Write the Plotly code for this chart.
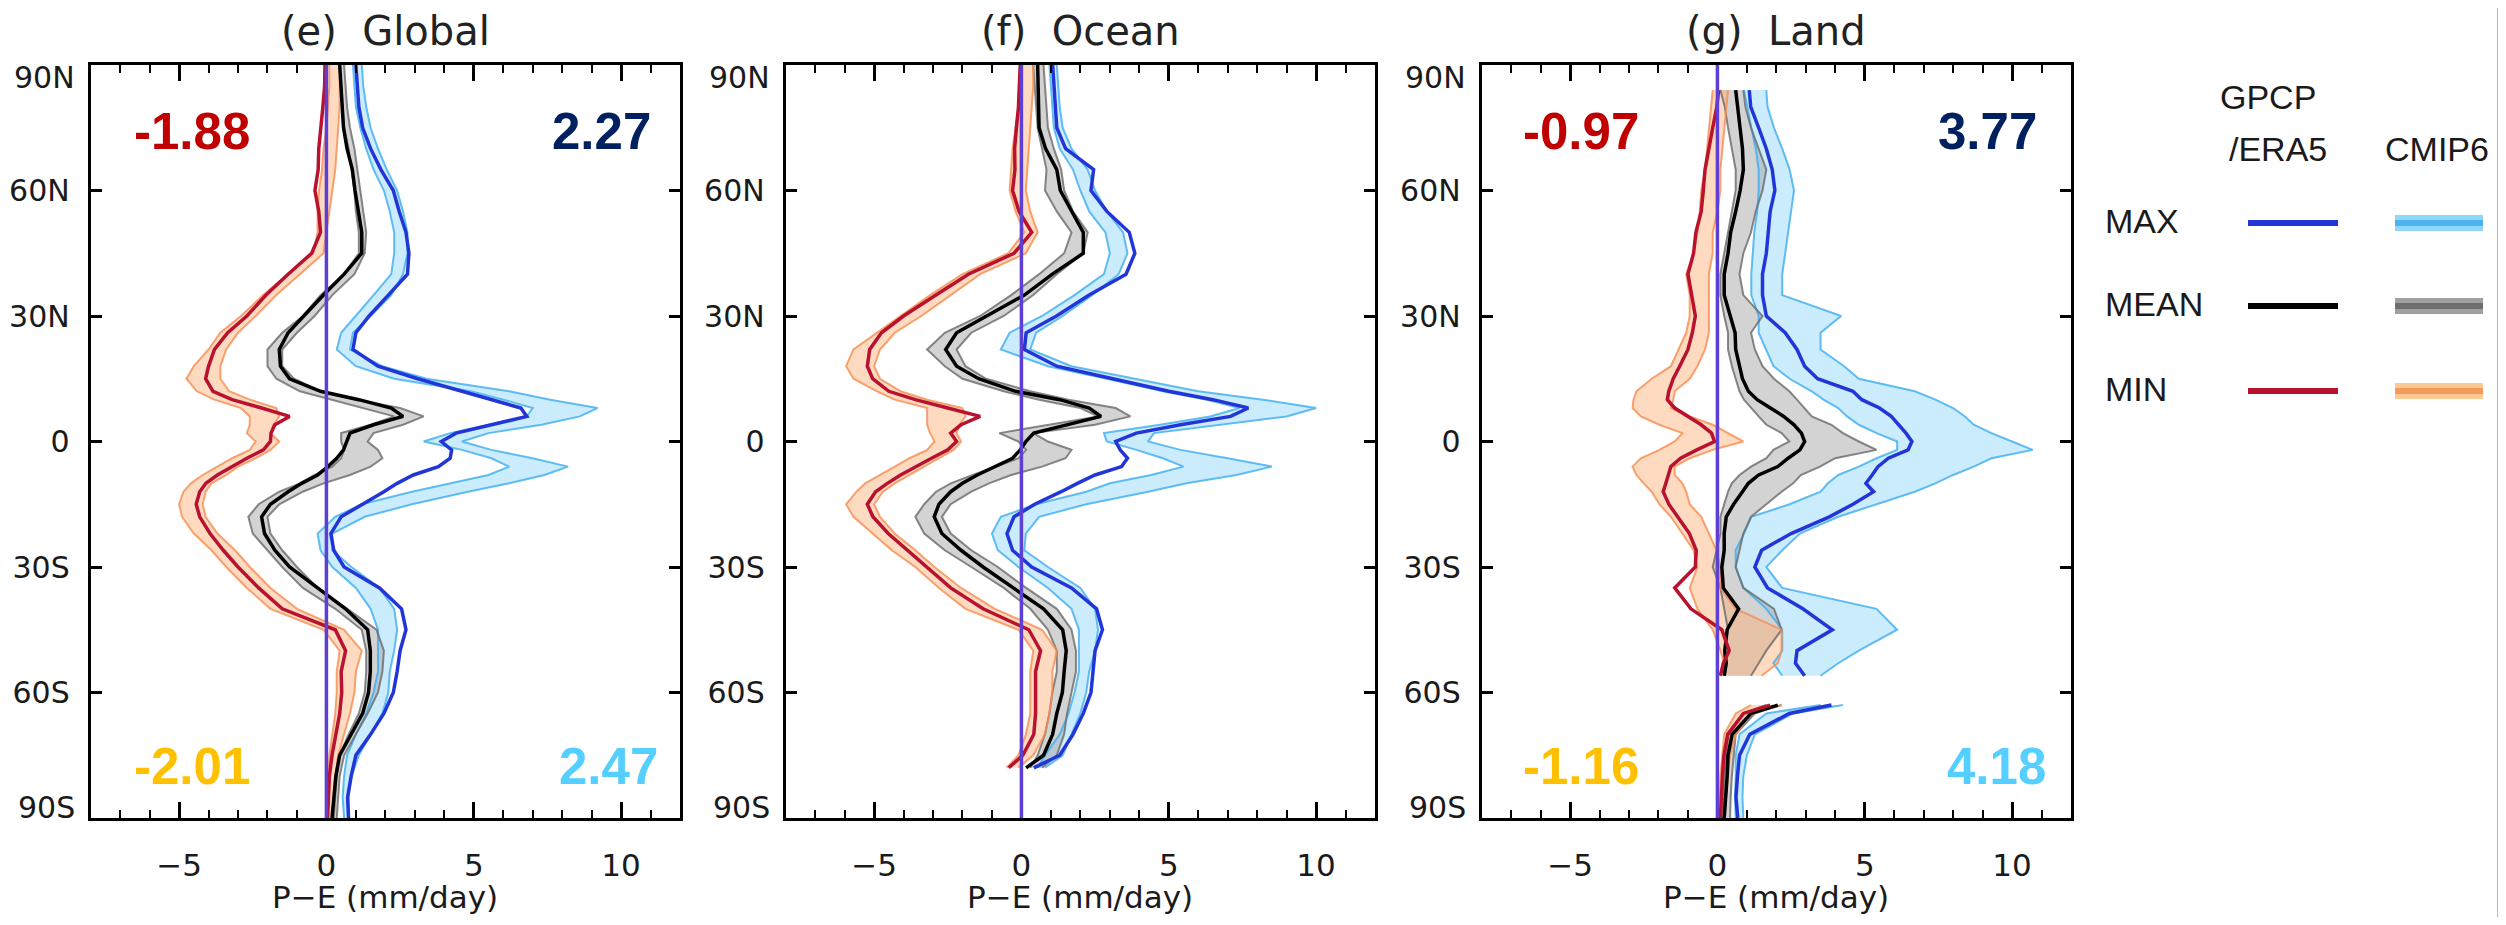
import plotly.graph_objects as go

# ---------------- data ----------------
lat_global = [90, 85, 80, 75, 70, 65, 60, 55, 50, 45, 40, 35, 30,
              26, 22, 18, 15, 12, 10, 8, 6, 4, 2, 0,
              -2, -4, -6, -8, -10, -12, -15, -18, -22, -26,
              -30, -35, -40, -45, -50, -55, -60, -65, -70, -75, -80, -85, -90]
lat_ocean = [90, 85, 80, 75, 70, 65, 60, 55, 50, 45, 40, 35, 30,
             26, 22, 18, 15, 12, 10, 8, 6, 4, 2, 0,
             -2, -4, -6, -8, -10, -12, -15, -18, -22, -26,
             -30, -35, -40, -45, -50, -55, -60, -65, -70, -75, -78]
lat_land = [84, 80,
            75, 70, 65, 60, 55, 50, 45, 40, 35, 30,
            26, 22, 18, 15, 12, 10, 8, 6, 4, 2, 0,
            -2, -4, -6, -8, -10, -12, -15, -18, -22, -26,
            -30, -35, -40, -45, -50,
            -53, -56, -60, -63, -65,
            -70, -75, -80, -85, -90]

# Global
obs_max_global = [1.0, 1.04, 1.1, 1.23, 1.5, 1.85, 2.27, 2.47, 2.7, 2.8, 2.75, 2.1, 1.45,
                  1.0, 0.9, 1.75, 3.1, 4.6, 5.6, 6.6, 6.8, 5.6, 4.4, 3.9,
                  4.25, 4.2, 3.8, 2.95, 2.4, 1.95, 1.2, 0.5, 0.15, 0.25,
                  0.6, 1.8, 2.55, 2.7, 2.5, 2.4, 2.27, 1.95, 1.5, 1.0, 0.84, 0.72, 0.75]
obs_mean_global = [0.45, 0.5, 0.55, 0.58, 0.7, 0.88, 0.97, 1.1, 1.2, 1.2, 0.6, -0.1, -0.75,
                   -1.3, -1.6, -1.56, -1.25, -0.2, 1.1, 2.2, 2.6, 1.6, 0.8, 0.7,
                   0.58, 0.35, 0.05, -0.3, -0.84, -1.3, -1.9, -2.2, -2.1, -1.75,
                   -1.25, -0.3, 0.65, 1.4, 1.49, 1.49, 1.43, 1.23, 0.84, 0.45, 0.32, 0.26, 0.19]
obs_min_global = [-0.05, -0.06, -0.12, -0.2, -0.26, -0.28, -0.39, -0.26, -0.2, -0.5, -1.3, -2.05, -2.7,
                  -3.35, -3.8, -4.0, -4.1, -3.85, -3.2, -2.2, -1.25, -1.75, -1.88, -1.9,
                  -2.14, -2.7, -3.18, -3.7, -4.09, -4.3, -4.42, -4.3, -3.95, -3.5,
                  -3.0, -2.3, -1.5, 0.3, 0.65, 0.5, 0.52, 0.45, 0.32, 0.19, 0.1, 0.06, 0.04]
cmip_max_lo_global = [0.9, 0.95, 1.0, 1.15, 1.35, 1.6, 1.95, 2.15, 2.3, 2.3, 2.2, 1.6, 1.0,
                      0.5, 0.35, 1.0, 2.3, 4.9, 6.0, 7.0, 6.8, 5.5, 4.2, 3.3,
                      4.6, 5.6, 6.2, 5.5, 4.2, 2.9, 1.2, 0.3, -0.3, -0.2,
                      0.2, 1.0, 1.5, 1.75, 1.75, 1.75, 1.6, 1.35, 1.0, 0.7, 0.6, 0.55, 0.6]
cmip_max_hi_global = [1.2, 1.25, 1.35, 1.5, 1.75, 2.05, 2.4, 2.6, 2.75, 2.75, 2.6, 2.2, 1.5,
                      0.9, 0.8, 1.9, 3.4, 6.2, 7.6, 9.2, 8.6, 7.3, 5.5, 4.6,
                      5.6, 7.0, 8.2, 7.4, 6.2, 4.8, 2.9, 1.3, 0.2, 0.2,
                      0.85, 1.8, 2.3, 2.4, 2.3, 2.15, 2.1, 1.9, 1.5, 1.1, 0.85, 0.75, 0.75]
cmip_mean_lo_global = [0.45, 0.5, 0.55, 0.6, 0.75, 0.85, 0.95, 1.0, 1.1, 1.1, 0.6, -0.2, -0.8,
                       -1.5, -2.0, -2.0, -1.7, -0.9, 0.2, 1.3, 2.3, 1.5, 0.5, 0.5,
                       0.6, 0.5, 0.2, -0.4, -0.9, -1.6, -2.3, -2.65, -2.5, -2.0,
                       -1.5, -0.8, 0.3, 1.2, 1.35, 1.35, 1.3, 1.1, 0.75, 0.45, 0.35, 0.3, 0.25]
cmip_mean_hi_global = [0.6, 0.65, 0.7, 0.8, 0.95, 1.05, 1.15, 1.25, 1.35, 1.3, 0.95, 0.2, -0.4,
                       -1.0, -1.5, -1.5, -1.1, -0.2, 1.0, 2.5, 3.3, 2.6, 1.6, 1.4,
                       1.75, 1.9, 1.5, 0.8, -0.1, -0.8, -1.6, -2.0, -1.9, -1.5,
                       -1.0, -0.3, 0.7, 1.7, 1.95, 1.9, 1.75, 1.4, 1.0, 0.6, 0.45, 0.4, 0.35]
cmip_min_lo_global = [0.1, 0.1, 0.05, 0.0, -0.1, -0.15, -0.25, -0.3, -0.3, -0.45, -1.3, -2.15, -2.9,
                      -3.6, -4.0, -4.5, -4.75, -4.4, -3.8, -2.9, -2.6, -2.6, -2.7, -2.4,
                      -2.6, -3.2, -3.7, -4.2, -4.6, -4.85, -5.0, -4.9, -4.5, -3.9,
                      -3.4, -2.7, -1.9, -0.1, 0.45, 0.35, 0.35, 0.3, 0.2, 0.1, 0.06, 0.03, 0.02]
cmip_min_hi_global = [0.45, 0.45, 0.45, 0.4, 0.35, 0.3, 0.2, 0.1, 0.0, -0.1, -0.9, -1.7, -2.4,
                      -3.0, -3.4, -3.6, -3.6, -3.3, -2.6, -1.7, -1.6, -1.8, -1.9, -1.6,
                      -1.9, -2.4, -3.0, -3.4, -3.9, -4.1, -4.2, -4.1, -3.7, -3.1,
                      -2.6, -1.9, -1.0, 0.6, 1.2, 1.0, 0.95, 0.8, 0.6, 0.4, 0.3, 0.25, 0.2]

# Ocean
obs_max_ocean = [1.06, 1.1, 1.15, 1.2, 1.5, 2.45, 2.36, 2.9, 3.66, 3.85, 3.55, 2.3, 1.19,
                 0.16, 0.1, 1.2, 3.1, 5.0, 6.5, 7.7, 7.1, 5.4, 3.9, 3.2,
                 3.35, 3.6, 3.4, 2.5, 1.9, 1.35, 0.45, -0.25, -0.49, -0.3,
                 0.35, 1.7, 2.55, 2.75, 2.5, 2.43, 2.36, 2.1, 1.75, 1.3, 0.42]
obs_mean_ocean = [0.55, 0.57, 0.58, 0.6, 0.82, 1.2, 1.32, 1.71, 2.1, 2.1, 1.05, 0.1, -1.2,
                  -2.2, -2.57, -2.2, -1.45, -0.2, 1.3, 2.3, 2.7, 1.5, 0.42, 0.15,
                  -0.04, -0.3, -0.9, -1.5, -2.0, -2.4, -2.8, -2.96, -2.7, -2.05,
                  -1.3, -0.3, 0.75, 1.4, 1.52, 1.45, 1.39, 1.2, 1.06, 0.75, 0.16]
obs_min_ocean = [-0.04, -0.07, -0.1, -0.17, -0.23, -0.22, -0.3, -0.08, 0.35, -0.25, -1.8, -2.9, -4.0,
                 -4.75, -5.15, -5.23, -5.05, -4.5, -3.6, -2.5, -1.4, -2.05, -2.4, -2.2,
                 -2.5, -3.05, -3.6, -4.1, -4.55, -4.95, -5.23, -5.04, -4.52, -3.87,
                 -3.22, -2.4, -1.3, 0.25, 0.65, 0.48, 0.48, 0.48, 0.42, 0.05, -0.43]
cmip_max_lo_ocean = [0.95, 1.0, 1.05, 1.1, 1.3, 1.75, 2.0, 2.3, 2.85, 3.0, 2.8, 1.8, 0.7,
                     -0.4, -0.7, 0.9, 2.9, 4.8, 6.3, 7.4, 6.4, 4.7, 2.8, 2.9,
                     3.9, 4.8, 5.5, 4.4, 3.0, 2.2, 0.5, -0.7, -1.0, -0.8,
                     -0.1, 0.9, 1.7, 1.95, 1.95, 1.95, 1.8, 1.6, 1.3, 0.8, 0.55]
cmip_max_hi_ocean = [1.2, 1.25, 1.3, 1.4, 1.7, 2.25, 2.5, 2.9, 3.45, 3.6, 3.3, 2.4, 1.4,
                     0.5, 0.3, 1.7, 3.8, 6.0, 8.2, 10.0, 9.0, 6.8, 4.5, 4.3,
                     5.4, 7.0, 8.5, 7.3, 5.6, 4.3, 2.2, 0.6, 0.15, 0.1,
                     0.9, 2.0, 2.5, 2.6, 2.5, 2.3, 2.2, 2.0, 1.7, 1.4, 0.8]
cmip_mean_lo_ocean = [0.4, 0.45, 0.5, 0.55, 0.7, 0.85, 0.8, 1.2, 1.7, 1.45, 0.6, -0.35, -1.4,
                      -2.6, -3.2, -2.6, -2.0, -0.6, 0.6, 2.0, 2.6, 0.9, -0.75, -0.1,
                      0.16, -0.1, -0.9, -1.65, -2.4, -2.9, -3.3, -3.6, -3.3, -2.6,
                      -1.7, -0.6, 0.3, 0.9, 1.2, 1.2, 1.05, 0.95, 0.8, 0.55, 0.3]
cmip_mean_hi_ocean = [0.75, 0.8, 0.85, 0.9, 1.1, 1.35, 1.45, 1.75, 2.25, 2.1, 1.2, 0.4, -0.6,
                      -1.7, -2.2, -1.9, -1.2, 0.3, 1.6, 3.2, 3.7, 2.5, 0.4, 0.9,
                      1.7, 1.5, 0.7, -0.35, -1.1, -1.7, -2.4, -2.7, -2.4, -1.7,
                      -0.8, 0.16, 1.2, 1.7, 1.85, 1.85, 1.7, 1.55, 1.45, 1.2, 0.7]
cmip_min_lo_ocean = [0.0, -0.05, -0.1, -0.2, -0.3, -0.35, -0.4, -0.2, 0.1, -0.45, -2.0, -3.1, -4.1,
                     -4.9, -5.7, -5.95, -5.7, -4.9, -4.3, -3.2, -3.2, -3.2, -3.1, -2.95,
                     -3.2, -3.8, -4.3, -4.8, -5.3, -5.6, -5.95, -5.7, -5.05, -4.4,
                     -3.6, -2.8, -1.9, -0.1, 0.4, 0.3, 0.3, 0.3, 0.15, -0.1, -0.5]
cmip_min_hi_ocean = [0.4, 0.4, 0.35, 0.3, 0.25, 0.2, 0.15, 0.3, 0.55, 0.15, -1.4, -2.4, -3.4,
                     -4.3, -4.8, -5.0, -4.8, -4.1, -3.2, -2.0, -1.9, -2.1, -2.2, -2.05,
                     -2.3, -2.8, -3.3, -3.75, -4.3, -4.7, -5.0, -4.8, -4.3, -3.6,
                     -2.95, -2.05, -0.9, 0.7, 1.2, 1.05, 1.05, 0.95, 0.8, 0.4, -0.1]

# Land (None = no land at that latitude)
obs_max_land = [1.08, 1.13,
                1.4, 1.66, 1.86, 1.95, 1.79, 1.73, 1.66, 1.53, 1.53, 1.66,
                2.3, 2.7, 2.96, 3.4, 4.6, 4.9, 5.5, 5.9, 6.15, 6.4, 6.6,
                6.47, 5.8, 5.45, 5.25, 5.04, 5.3, 4.6, 3.8, 2.5, 1.5,
                1.27, 1.7, 2.9, 3.9, 2.7,
                2.65, 2.96, None, 3.87, 2.44,
                1.1, 0.75, 0.68, 0.63, 0.69]
obs_mean_land = [0.62, 0.68,
                 0.75, 0.85, 0.88, 0.77, 0.62, 0.45, 0.36, 0.23, 0.23, 0.45,
                 0.6, 0.62, 0.75, 0.85, 1.05, 1.35, 1.8, 2.25, 2.6, 2.85, 2.96,
                 2.8, 2.4, 2.05, 1.4, 1.05, 0.85, 0.55, 0.3, 0.23, 0.23,
                 0.15, 0.2, 0.72, 0.33, 0.25,
                 0.3, 0.23, None, 2.05, 1.14,
                 0.5, 0.36, 0.33, 0.28, 0.23]
obs_min_land = [0.04, -0.02,
                -0.16, -0.3, -0.42, -0.48, -0.55, -0.73, -0.81, -1.0, -0.87, -0.75,
                -0.85, -1.0, -1.28, -1.5, -1.65, -1.7, -1.45, -1.0, -0.55, -0.2, -0.1,
                -0.7, -1.25, -1.58, -1.65, -1.75, -1.84, -1.65, -1.35, -0.95, -0.72,
                -0.75, -1.45, -0.9, 0.15, 0.4,
                0.2, 0.1, None, 1.79, 0.88,
                0.35, 0.22, 0.17, 0.13, 0.1]
cmip_max_lo_land = [0.9, 1.0,
                    1.15, 1.3, 1.4, 1.4, 1.35, 1.25, 1.2, 1.15, 1.15, 1.4,
                    1.4, 1.65, 1.9, 2.45, 3.2, 3.6, 4.1, 4.4, 4.8, 5.4, 6.1,
                    6.1, 5.4, 4.8, 4.1, 3.75, 3.5, 2.45, 1.15, 0.9, 0.62,
                    0.62, 0.88, 1.66, 2.2, 2.2,
                    1.9, 2.2, None, 3.5, 1.66,
                    0.75, 0.62, 0.62, 0.6, 0.62]
cmip_max_hi_land = [1.66, 1.7,
                    1.92, 2.2, 2.45, 2.6, 2.5, 2.4, 2.3, 2.2, 2.2, 4.2,
                    3.5, 3.5, 4.3, 4.8, 6.7, 7.4, 8.0, 8.4, 8.7, 9.3, 10.0,
                    10.7, 9.3, 8.7, 8.0, 7.4, 6.7, 5.4, 4.1, 2.8, 2.2,
                    1.66, 2.2, 5.4, 6.1, 4.8,
                    4.1, 3.5, None, 4.26, 2.57,
                    1.27, 1.0, 0.88, 0.85, 0.88]
cmip_mean_lo_land = [0.1, 0.25,
                     0.36, 0.5, 0.62, 0.62, 0.5, 0.36, 0.23, 0.1, 0.1, 0.23,
                     0.36, 0.36, 0.49, 0.62, 0.75, 0.9, 1.14, 1.4, 1.66, 2.18, 2.44,
                     1.9, 1.66, 1.14, 0.75, 0.49, 0.36, 0.23, 0.1, 0.1, -0.03,
                     -0.16, 0.1, 0.23, 0.36, 0.23,
                     0.23, 0.23, None, 1.66, 0.88,
                     0.36, 0.3, 0.23, 0.2, 0.17]
cmip_mean_hi_land = [0.88, 0.95,
                     1.14, 1.4, 1.66, 1.53, 1.3, 1.14, 0.88, 0.75, 0.88, 1.53,
                     1.14, 1.27, 1.53, 1.92, 2.44, 2.7, 2.96, 3.2, 3.87, 4.26, 4.8,
                     5.4, 4.0, 3.48, 2.83, 2.57, 2.18, 1.66, 1.14, 0.88, 0.75,
                     0.62, 0.88, 1.92, 2.18, 1.66,
                     1.4, 1.14, None, 2.18, 1.27,
                     0.62, 0.55, 0.49, 0.45, 0.43]
cmip_min_lo_land = [-0.16, -0.22,
                    -0.29, -0.36, -0.42, -0.55, -0.6, -0.68, -0.81, -1.06, -0.94, -0.94,
                    -1.06, -1.32, -1.58, -2.23, -2.75, -2.85, -2.88, -2.6, -1.97, -1.19, -1.45,
                    -1.97, -2.6, -2.88, -2.75, -2.5, -2.23, -1.97, -1.58, -1.19, -0.81,
                    -0.68, -0.94, -0.68, -0.16, 0.1,
                    0.23, 0.23, None, 1.14, 0.62,
                    0.23, 0.17, 0.1, 0.08, 0.08]
cmip_min_hi_land = [0.36, 0.3,
                    0.23, 0.16, 0.1, 0.1, 0.0, -0.16, -0.16, -0.29, -0.29, -0.29,
                    -0.29, -0.42, -0.68, -0.94, -1.45, -1.5, -1.58, -0.94, -0.16, 0.36, 0.88,
                    -0.16, -0.94, -1.45, -1.45, -1.19, -1.06, -0.94, -0.55, -0.29, -0.03,
                    0.1, 0.1, 0.62, 2.18, 2.18,
                    2.05, 1.5, None, 2.18, 1.14,
                    0.62, 0.43, 0.36, 0.3, 0.23]

panel_titles = ["(e)\u00a0\u00a0Global", "(f)\u00a0\u00a0Ocean", "(g)\u00a0\u00a0Land"]
corner_values = [["-1.88", "2.27", "-2.01", "2.47"], None, ["-0.97", "3.77", "-1.16", "4.18"]]
x_tickvals = [-5, 0, 5, 10]
x_ticktext = ["\u22125", "0", "5", "10"]
y_tickvals = [-60, -30, 0, 30, 60]
y_ticktext = ["60S", "30S", "0", "30N", "60N"]
legend_rows = ["MAX", "MEAN", "MIN"]

# ---------------- styling / layout ----------------
FIG_W, FIG_H = 2490, 909
OFF = 8  # default page margin around the plot div


def px(x):
    return (x - OFF) / FIG_W


def py(y):
    return 1 - (y - OFF) / FIG_H


panel_px = [(90.7, 680.0), (785.7, 1375.0), (1481.7, 2071.0)]
TOP_PX, BOT_PX = 65.0, 818.0

C_OBS = {"max": "#2236D8", "mean": "#000000", "min": "#B8122E"}
C_CM_LINE = {"max": "rgba(60,172,240,0.8)", "mean": "rgba(105,105,105,0.8)",
             "min": "rgba(246,140,80,0.8)"}
C_CM_FILL = {"max": "rgba(125,208,250,0.4)", "mean": "rgba(150,150,150,0.42)",
             "min": "rgba(252,175,115,0.45)"}
ZERO_COLOR = "#5E3FD3"
FONT = "DejaVu Sans"

panels = [
    (lat_global, obs_max_global, obs_mean_global, obs_min_global,
     (cmip_max_lo_global, cmip_max_hi_global), (cmip_mean_lo_global, cmip_mean_hi_global),
     (cmip_min_lo_global, cmip_min_hi_global)),
    (lat_ocean, obs_max_ocean, obs_mean_ocean, obs_min_ocean,
     (cmip_max_lo_ocean, cmip_max_hi_ocean), (cmip_mean_lo_ocean, cmip_mean_hi_ocean),
     (cmip_min_lo_ocean, cmip_min_hi_ocean)),
    (lat_land, obs_max_land, obs_mean_land, obs_min_land,
     (cmip_max_lo_land, cmip_max_hi_land), (cmip_mean_lo_land, cmip_mean_hi_land),
     (cmip_min_lo_land, cmip_min_hi_land)),
]


def segments(lat, lo, hi):
    segs, cur = [], []
    for la, a, b in zip(lat, lo, hi):
        if a is None or b is None:
            if cur:
                segs.append(cur)
            cur = []
        else:
            cur.append((la, a, b))
    if cur:
        segs.append(cur)
    return segs


fig = go.Figure()

for k, (lat, omax, omean, omin, cmax, cmean, cmin) in enumerate(panels):
    xa = "x" if k == 0 else f"x{k + 1}"
    ya = "y" if k == 0 else f"y{k + 1}"
    # CMIP6 envelopes
    for key, (lo, hi) in (("max", cmax), ("mean", cmean), ("min", cmin)):
        for seg in segments(lat, lo, hi):
            la = [s[0] for s in seg]
            a = [s[1] for s in seg]
            b = [s[2] for s in seg]
            fig.add_trace(go.Scatter(x=a + b[::-1], y=la + la[::-1], fill="toself",
                                     fillcolor=C_CM_FILL[key], mode="lines",
                                     line=dict(width=0), xaxis=xa, yaxis=ya,
                                     showlegend=False, hoverinfo="skip"))
    for key, (lo, hi) in (("max", cmax), ("mean", cmean), ("min", cmin)):
        for arr in (lo, hi):
            fig.add_trace(go.Scatter(x=arr, y=lat, mode="lines",
                                     line=dict(color=C_CM_LINE[key], width=2),
                                     connectgaps=False, xaxis=xa, yaxis=ya,
                                     showlegend=False))
    # GPCP/ERA5
    for key, arr in (("max", omax), ("mean", omean), ("min", omin)):
        fig.add_trace(go.Scatter(x=arr, y=lat, mode="lines",
                                 line=dict(color=C_OBS[key], width=3.5),
                                 connectgaps=False, xaxis=xa, yaxis=ya,
                                 showlegend=False))

layout = dict(width=FIG_W, height=FIG_H, margin=dict(l=0, r=0, t=0, b=0, pad=0),
              paper_bgcolor="white", plot_bgcolor="white", showlegend=False,
              font=dict(family=FONT, color="#1a1a1a"))
shapes, annotations = [], []

for k, (x0p, x1p) in enumerate(panel_px):
    sfx = "" if k == 0 else str(k + 1)
    layout["xaxis" + sfx] = dict(
        domain=[px(x0p), px(x1p)], range=[-8, 12], anchor="y" + sfx,
        tickmode="array", tickvals=x_tickvals, ticktext=x_ticktext,
        ticks="inside", ticklen=16, tickwidth=2.5, tickcolor="black",
        minor=dict(dtick=1, tick0=0, ticks="inside", ticklen=8, tickwidth=2, tickcolor="black"),
        showline=True, linewidth=3, linecolor="black", mirror="allticks",
        showgrid=False, zeroline=False, tickfont=dict(family=FONT, size=31, color="#1a1a1a"),
        ticklabelstandoff=18)
    layout["yaxis" + sfx] = dict(
        domain=[py(BOT_PX), py(TOP_PX)], range=[-90, 90], anchor="x" + sfx,
        tickmode="array", tickvals=y_tickvals, ticktext=y_ticktext,
        ticks="inside", ticklen=11, tickwidth=3, tickcolor="black",
        showline=True, linewidth=3, linecolor="black", mirror="allticks",
        showgrid=False, zeroline=False, tickfont=dict(family=FONT, size=30, color="#1a1a1a"),
        ticklabelstandoff=12)
    xa = "x" + sfx
    ya = "y" + sfx
    # zero line
    shapes.append(dict(type="line", xref=xa, yref=ya + " domain", x0=0, x1=0, y0=0, y1=1,
                       line=dict(color=ZERO_COLOR, width=3.5), layer="above"))
    # 90N / 90S labels
    for txt, yv in (("90N", 87.1), ("90S", -87.6)):
        annotations.append(dict(text=txt, xref=xa + " domain", yref=ya, x=0, y=yv,
                                xanchor="right", yanchor="middle", xshift=-14, showarrow=False,
                                font=dict(family=FONT, size=30, color="#1a1a1a")))
    # panel title
    cx = (x0p + x1p) / 2
    annotations.append(dict(text=panel_titles[k], xref="paper", yref="paper", x=px(cx), y=py(31),
                            xanchor="center", yanchor="middle", showarrow=False,
                            font=dict(family=FONT, size=40, color="#222222")))
    annotations.append(dict(text="P\u2212E (mm/day)", xref="paper", yref="paper", x=px(cx), y=py(897),
                            xanchor="center", yanchor="middle", showarrow=False,
                            font=dict(family=FONT, size=31, color="#1a1a1a")))
    vals = corner_values[k]
    if vals:
        xl = -4.55 if k == 0 else -4.64
        xr_top = 9.33 if k == 0 else 9.17
        xr_bot = 9.57 if k == 0 else 9.47
        specs = [(vals[0], xl, 74.1, "#C00000"), (vals[1], xr_top, 74.1, "#002060"),
                 (vals[2], xl, -77.6, "#FFC000"), (vals[3], xr_bot, -77.6, "#55CFFF")]
        for txt, xv, yv, col in specs:
            annotations.append(dict(text="<b>" + txt + "</b>", xref=xa, yref=ya, x=xv, y=yv,
                                    xanchor="center", yanchor="middle", showarrow=False,
                                    font=dict(family="Liberation Sans", size=51, color=col)))

# legend (drawn manually)
LFONT = dict(family="Liberation Sans", size=34, color="#1a1a1a")
annotations.append(dict(text="GPCP", xref="paper", yref="paper", x=px(2268), y=py(97),
                        xanchor="center", yanchor="middle", showarrow=False, font=LFONT))
annotations.append(dict(text="/ERA5", xref="paper", yref="paper", x=px(2278), y=py(149),
                        xanchor="center", yanchor="middle", showarrow=False, font=LFONT))
annotations.append(dict(text="CMIP6", xref="paper", yref="paper", x=px(2437), y=py(149),
                        xanchor="center", yanchor="middle", showarrow=False, font=LFONT))
row_y = [223, 306, 391]
cm_legend = {"MAX": ("rgba(140,215,250,1)", "#4DB2EE"),
             "MEAN": ("rgba(160,160,160,1)", "#6E6E6E"),
             "MIN": ("rgba(252,200,150,1)", "#F49A5C")}
obs_legend = {"MAX": C_OBS["max"], "MEAN": C_OBS["mean"], "MIN": C_OBS["min"]}
for name, yv in zip(legend_rows, row_y):
    annotations.append(dict(text=name, xref="paper", yref="paper", x=px(2103), y=py(yv - 2),
                            xanchor="left", yanchor="middle", showarrow=False, font=LFONT))
    shapes.append(dict(type="line", xref="paper", yref="paper", x0=px(2248), x1=px(2338),
                       y0=py(yv), y1=py(yv), line=dict(color=obs_legend[name], width=6)))
    wide, core = cm_legend[name]
    shapes.append(dict(type="line", xref="paper", yref="paper", x0=px(2395), x1=px(2483),
                       y0=py(yv), y1=py(yv), line=dict(color=wide, width=16)))
    shapes.append(dict(type="line", xref="paper", yref="paper", x0=px(2395), x1=px(2483),
                       y0=py(yv), y1=py(yv), line=dict(color=core, width=6)))

# thin grey frame edge on the right of the image
shapes.append(dict(type="line", xref="paper", yref="paper", x0=px(2499), x1=px(2499), y0=0, y1=1,
                   line=dict(color="#B8B8B8", width=4)))

layout["shapes"] = shapes
layout["annotations"] = annotations
fig.update_layout(**layout)

fig.write_html("out.html")
